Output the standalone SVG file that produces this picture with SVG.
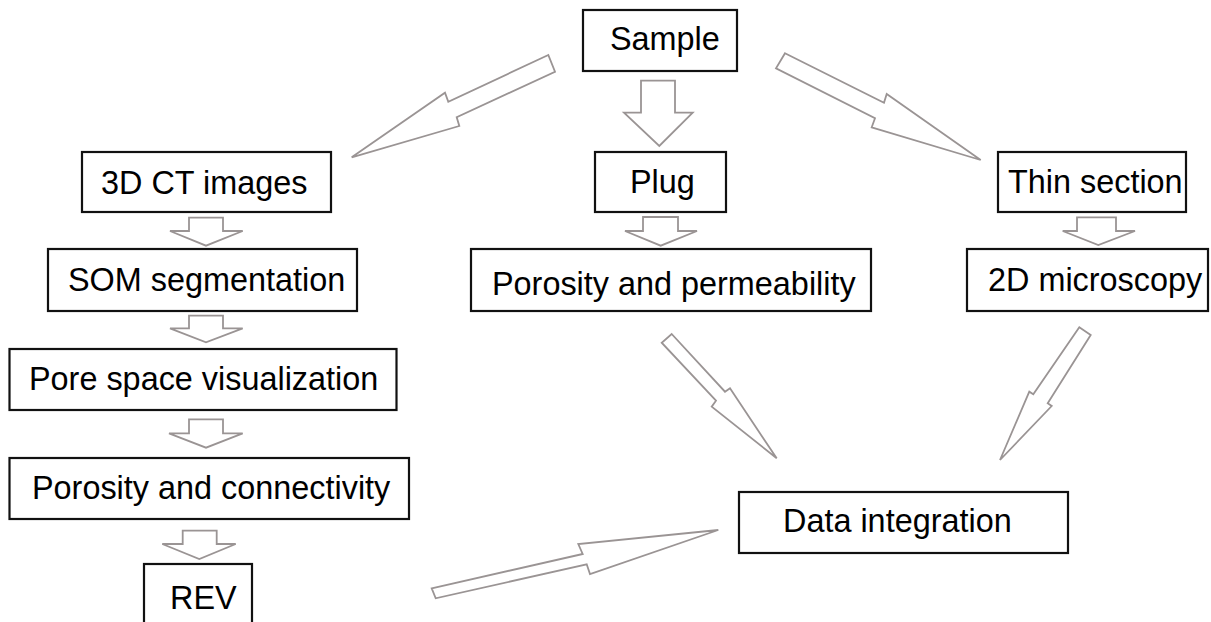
<svg xmlns="http://www.w3.org/2000/svg" width="1211" height="622" viewBox="0 0 1211 622">
<style>
.box{fill:#fff;stroke:#111;stroke-width:2.2}
.lbl{font-family:"Liberation Sans",Arial,sans-serif;font-size:32.4px;fill:#000}
.arr{fill:#fff;stroke:#9a9494;stroke-width:1.8;stroke-linejoin:miter}
</style>
<rect width="1211" height="622" fill="#fff"/>
<g id="connectors">
<polygon class="arr" points="548.3,55 448.3,101.7 445,92.7 351.7,157.3 459.3,126 456.7,117.3 555,71.7"/>
<polygon class="arr" points="785,53.3 884,102.7 886.7,94 980.7,160 871.7,127.3 875,118.3 776,68.3"/>
<polygon class="arr" points="641,80.7 675,80.7 675,112.7 692.7,112.7 659.3,146 624,112.7 641,112.7"/>
<polygon class="arr" points="189,217.7 223,217.7 223,231 242.7,231 206,245.7 170,231 189,231"/>
<polygon class="arr" points="189,315.7 223,315.7 223,328.3 242.7,328.3 206,342.3 170,328.3 189,328.3"/>
<polygon class="arr" points="189,419.3 223,419.3 223,433.3 242.7,433.3 206,447.7 169,433.3 189,433.3"/>
<polygon class="arr" points="182.7,530.7 216.7,530.7 216.7,544 235.7,544 199.3,559 162.3,544 182.7,544"/>
<polygon class="arr" points="643,217 678,217 678,231 697,231 660.7,245.7 625,231 643,231"/>
<polygon class="arr" points="1077,217.3 1116,217.3 1116,231 1135,231 1098.3,245 1062.7,231 1077,231"/>
<polygon class="arr" points="671.7,334 725,391.7 730,388.3 776.7,458.3 711.7,406.7 716,400.7 661.7,342.7"/>
<polygon class="arr" points="1090.7,335 1047.7,403.3 1051.7,406 1000,460 1029.3,391.7 1033.3,394.3 1079.3,327.3"/>
<polygon class="arr" points="431.7,588.3 582.7,554 578.3,544 718.3,530 590,574 586.7,564.3 435.7,598.3"/>
</g>
<g id="sample"><rect class="box" x="583" y="10" width="154" height="61"/><text class="lbl" x="610" y="50">Sample</text></g>
<g id="ct3d"><rect class="box" x="82" y="152" width="249" height="60"/><text class="lbl" x="101" y="194">3D CT images</text></g>
<g id="plug"><rect class="box" x="595" y="152" width="131" height="60"/><text class="lbl" x="630" y="193">Plug</text></g>
<g id="thin"><rect class="box" x="998" y="152" width="188" height="60"/><text class="lbl" x="1008" y="193">Thin section</text></g>
<g id="som"><rect class="box" x="48" y="249" width="309" height="62"/><text class="lbl" x="68" y="291">SOM segmentation</text></g>
<g id="porperm"><rect class="box" x="471" y="249" width="400" height="62"/><text class="lbl" x="492" y="295">Porosity and permeability</text></g>
<g id="micro"><rect class="box" x="967" y="249" width="241" height="62"/><text class="lbl" x="988" y="291">2D microscopy</text></g>
<g id="pore"><rect class="box" x="9.5" y="349" width="387" height="61"/><text class="lbl" x="29" y="390">Pore space visualization</text></g>
<g id="porconn"><rect class="box" x="9.5" y="458" width="399.5" height="61"/><text class="lbl" x="32" y="499">Porosity and connectivity</text></g>
<g id="rev"><rect class="box" x="144" y="564" width="108" height="70"/><text class="lbl" x="170" y="609">REV</text></g>
<g id="data"><rect class="box" x="739" y="492" width="329" height="61"/><text class="lbl" x="783" y="532">Data integration</text></g>
</svg>
